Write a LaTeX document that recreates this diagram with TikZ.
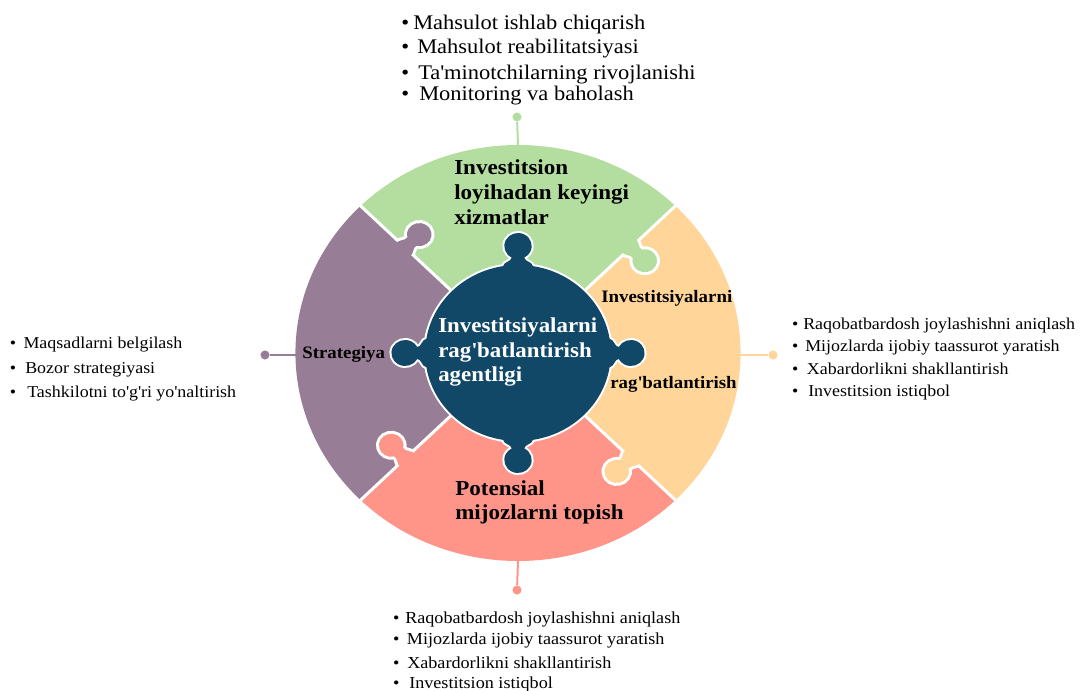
\documentclass[tikz,border=0pt]{standalone}
\usepackage{fontspec}
\setmainfont{Liberation Serif}[FakeStretch=1.08]
\definecolor{pgreen}{RGB}{180,222,160}
\definecolor{porange}{RGB}{255,213,153}
\definecolor{ppink}{RGB}{255,149,137}
\definecolor{ppurple}{RGB}{151,125,149}
\definecolor{pblue}{RGB}{17,72,104}
\newcommand{\apo}{\textquotesingle}
\newcommand{\bl}[1]{\llap{\textbullet\hspace{#1}}}
\newcommand{\puzzletab}[2]{%
  \begin{scope}[shift={(#1:149)}, rotate={-(#1)-90}]
    \draw[white, line width=4.5pt] (0,-9) .. controls (2.5,-9) and (3.5,-6) .. (6,-6) -- (8.69,-6)
      arc[start angle=211.45,end angle=508.55,radius=11.5] -- (6,6) .. controls (3.5,6) and (2.5,9) .. (0,9);
    \fill[#2] (-4,-9) -- (0,-9) .. controls (2.5,-9) and (3.5,-6) .. (6,-6) -- (8.69,-6)
      arc[start angle=211.45,end angle=508.55,radius=11.5] -- (6,6) .. controls (3.5,6) and (2.5,9) .. (0,9) -- (-4,9) -- cycle;
  \end{scope}}
\tikzset{
  biglbl/.style={anchor=base west, inner sep=0pt, font=\bfseries\fontsize{16}{19}\selectfont},
  midlbl/.style={anchor=base west, inner sep=0pt, font=\bfseries\fontsize{13.1}{16}\selectfont},
  centlbl/.style={anchor=base west, inner sep=0pt, text=white, font=\bfseries\fontsize{15.9}{19}\selectfont},
  toplist/.style={anchor=base west, inner sep=0pt, font=\fontsize{15.6}{18}\selectfont},
  sidelist/.style={anchor=base west, inner sep=0pt, font=\fontsize{12.45}{15}\selectfont},
  botlist/.style={anchor=base west, inner sep=0pt, font=\fontsize{12.6}{15}\selectfont},
  dot/.style={circle, inner sep=0pt, minimum size=6.8pt},
  conn/.style={line width=1.5pt}
}
\begin{document}
\begin{tikzpicture}[x=0.75pt,y=-0.75pt]
\useasboundingbox (0,0) rectangle (1083,691);
% outer puzzle pieces
\begin{scope}[shift={(518,353)}, xscale=1.07]
  \fill[pgreen] (0,0) -- (-135:208) arc[start angle=-135,end angle=-45,radius=208] -- cycle;
  \fill[porange] (0,0) -- (-45:208) arc[start angle=-45,end angle=45,radius=208] -- cycle;
  \fill[ppink] (0,0) -- (45:208) arc[start angle=45,end angle=135,radius=208] -- cycle;
  \fill[ppurple] (0,0) -- (135:208) arc[start angle=135,end angle=225,radius=208] -- cycle;
  \foreach \a in {-135,-45,45,135} \draw[white, line width=2.25pt] (0,0) -- (\a:212);
  \puzzletab{-135}{ppurple}
  \puzzletab{-45}{pgreen}
  \puzzletab{45}{porange}
  \puzzletab{135}{ppink}
  \coordinate (ctop) at (-90:208);
  \coordinate (cbot) at (90:208);
\end{scope}
% centre piece
\begin{scope}[shift={(518,353)}, xscale=1.055]
  \draw[white, line width=3pt] (0,0) circle[radius=88];
  \foreach \a in {-90,0,90,180} {
    \begin{scope}[rotate=\a]
      \draw[white, line width=3pt] (87,-14) .. controls (91,-14) and (91.5,-6) .. (95.47,-6)
        arc[start angle=207.5,end angle=512.5,radius=13] .. controls (91.5,6) and (91,14) .. (87,14);
    \end{scope}}
  \fill[pblue] (0,0) circle[radius=88];
  \foreach \a in {-90,0,90,180} {
    \begin{scope}[rotate=\a]
      \fill[pblue] (80,-14) -- (87,-14) .. controls (91,-14) and (91.5,-6) .. (95.47,-6)
        arc[start angle=207.5,end angle=512.5,radius=13] .. controls (91.5,6) and (91,14) .. (87,14) -- (80,14) -- cycle;
    \end{scope}}
\end{scope}
% connectors
\coordinate (cleft) at (296,355);
\coordinate (cright) at (740,355);
\node[dot, fill=pgreen] (dtop) at (517,117) {};
\node[dot, fill=ppink] (dbot) at (517,590) {};
\node[dot, fill=ppurple] (dleft) at (265,355) {};
\node[dot, fill=porange] (dright) at (773,355) {};
\draw[conn, pgreen] (ctop) -- (dtop);
\draw[conn, ppink] (cbot) -- (dbot);
\draw[conn, ppurple] (cleft) -- (dleft);
\draw[conn, porange] (cright) -- (dright);
% piece labels
\node[biglbl] (g1) at (454,175) {Investitsion};
\node[biglbl] (g2) at (454,200) {loyihadan keyingi};
\node[biglbl] (g3) at (454,225) {xizmatlar};
\node[biglbl] (p1) at (455,496) {Potensial};
\node[biglbl] (p2) at (455,520) {mijozlarni topish};
\node[centlbl] (c1) at (438,332.7) {Investitsiyalarni};
\node[centlbl] (c2) at (438,357.5) {rag\apo batlantirish};
\node[centlbl] (c3) at (438,382) {agentligi};
\node[midlbl] (o1) at (601,303) {Investitsiyalarni};
\node[midlbl] (o2) at (610,389) {rag\apo batlantirish};
\node[midlbl] (s1) at (302,359) {Strategiya};
% top list
\node[toplist] (t1) at (413,30) {\bl{3pt}Mahsulot ishlab chiqarish};
\node[toplist] (t2) at (417,53.5) {\bl{6pt}Mahsulot reabilitatsiyasi};
\node[toplist] (t3) at (418,80) {\bl{6.75pt}Ta\apo minotchilarning rivojlanishi};
\node[toplist] (t4) at (419,101) {\bl{7.5pt}Monitoring va baholash};
% left list
\node[sidelist] (l1) at (23.3,348.3) {\bl{5.6pt}Maqsadlarni belgilash};
\node[sidelist] (l2) at (25,373.3) {\bl{6.9pt}Bozor strategiyasi};
\node[sidelist] (l3) at (27,397.3) {\bl{8.4pt}Tashkilotni to\apo g\apo ri yo\apo naltirish};
% right list
\node[sidelist] (r1) at (803,329.3) {\bl{3.7pt}Raqobatbardosh joylashishni aniqlash};
\node[sidelist] (r2) at (805,351.7) {\bl{5.2pt}Mijozlarda ijobiy taassurot yaratish};
\node[sidelist] (r3) at (806.7,375) {\bl{6.4pt}Xabardorlikni shakllantirish};
\node[sidelist] (r4) at (808,396.7) {\bl{7.4pt}Investitsion istiqbol};
% bottom list
\node[botlist] (b1) at (405,623.3) {\bl{4.4pt}Raqobatbardosh joylashishni aniqlash};
\node[botlist] (b2) at (406.7,645) {\bl{5.7pt}Mijozlarda ijobiy taassurot yaratish};
\node[botlist] (b3) at (407,668.3) {\bl{5.9pt}Xabardorlikni shakllantirish};
\node[botlist] (b4) at (409,689) {\bl{7.4pt}Investitsion istiqbol};
\end{tikzpicture}
\end{document}
